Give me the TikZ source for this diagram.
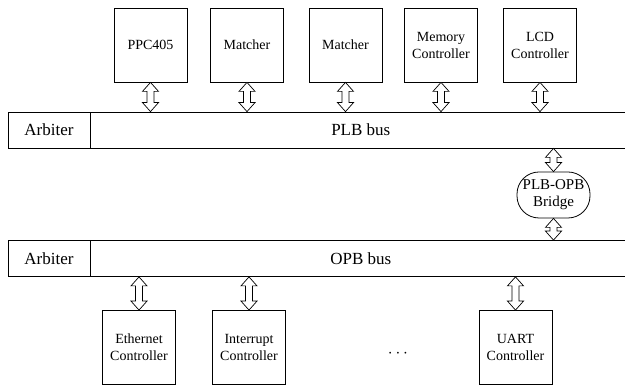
\documentclass[tikz,border=0pt]{standalone}
\usepackage{fontspec}
\setmainfont{Liberation Serif}
\usetikzlibrary{calc}
\begin{document}
\begin{tikzpicture}[x=1pt,y=1pt,
  box/.style={draw, line width=0.8pt, minimum width=73pt, minimum height=74pt, align=center, inner sep=0pt, font=\fontsize{14}{17}\selectfont},
  cell/.style={draw, line width=0.8pt, minimum height=36pt, inner sep=0pt, font=\fontsize{17}{20}\selectfont},
  bridgebox/.style={draw, line width=0.8pt, rounded corners=22pt, minimum width=73pt, minimum height=46pt, align=center, inner sep=0pt, font=\fontsize{15}{17}\selectfont},
  dblarr/.style={draw, fill=white, line width=0.7pt, to path={
    let \p1=(\tikztostart), \p2=(\tikztotarget) in
    (\x1,\y1) -- (\x1+8pt,\y1-9pt) -- (\x1+3.5pt,\y1-9pt) -- (\x1+3.5pt,\y2+9pt) -- (\x1+8pt,\y2+9pt)
    -- (\x1,\y2) -- (\x1-8pt,\y2+9pt) -- (\x1-3.5pt,\y2+9pt) -- (\x1-3.5pt,\y1-9pt) -- (\x1-8pt,\y1-9pt) -- cycle}}
]
\useasboundingbox (0,0) rectangle (625,385);

% top boxes
\node[box] (ppc) at (150.5,340) {PPC405};
\node[box] (m1)  at (247,340) {Matcher};
\node[box] (m2)  at (345.5,340) {Matcher};
\node[box] (mem) at (441,340) {Memory\\Controller};
\node[box] (lcd) at (540,340) {LCD\\Controller};

% PLB bus
\node[cell, minimum width=82pt] (arb1) at (49,255) {Arbiter};
\node[cell, minimum width=540pt, anchor=west] (plb) at (arb1.east) {PLB bus};

% bridge
\node[bridgebox] (br) at (553.5,190) {PLB-OPB\\Bridge};

% OPB bus
\node[cell, minimum width=82pt] (arb2) at (49,126.5) {Arbiter};
\node[cell, minimum width=540pt, anchor=west] (opb) at (arb2.east) {OPB bus};

% bottom boxes
\node[box] (eth)  at (139,37.5) {Ethernet\\Controller};
\node[box] (intr) at (249,37.5) {Interrupt\\Controller};
\node[box] (uart) at (515.5,37.5) {UART\\Controller};
\node[font=\fontsize{16}{17}\selectfont] (dots) at (398,31) {$\cdots$};

% connectors
\foreach \bx in {ppc,m1,m2,mem,lcd}
  \draw[dblarr] (\bx.south) to (\bx.south |- plb.north);
\draw[dblarr] (plb.south -| br) to (br.north);
\draw[dblarr] (br.south) to (br.south |- opb.north);
\foreach \bx in {eth,intr,uart}
  \draw[dblarr] (opb.south -| \bx) to (\bx.north);
\end{tikzpicture}
\end{document}
